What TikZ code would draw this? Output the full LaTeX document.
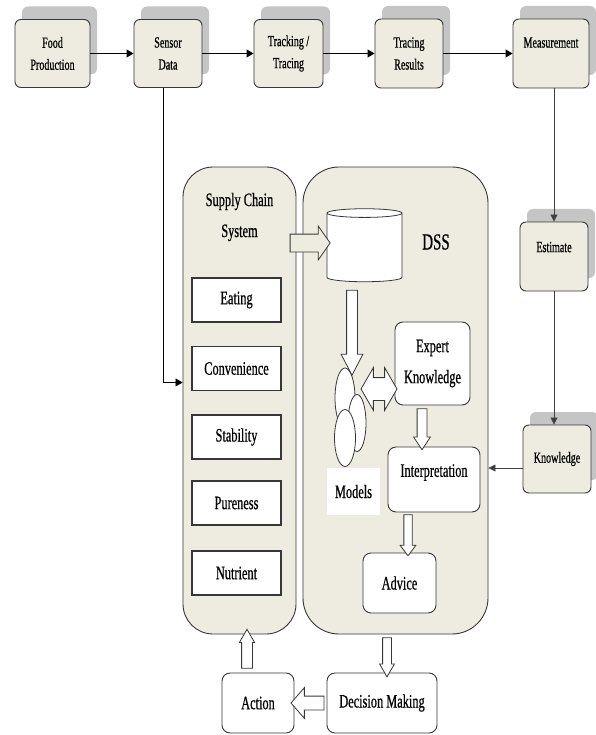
\documentclass[tikz,border=0pt]{standalone}
\usepackage{fontspec}
\setmainfont{Liberation Serif}[FakeStretch=0.65, FakeBold=0.6]
\usepackage{tikz}
\usetikzlibrary{calc,shapes.geometric,shapes.arrows,shadows,arrows.meta}
\definecolor{TanFill}{RGB}{238,236,225}
\definecolor{ShadeGray}{RGB}{197,197,197}
\definecolor{EdgeGray}{RGB}{55,55,55}
\newcommand\topsize{\fontsize{15.5}{22}\selectfont}
\newcommand\mainsize{\fontsize{19}{31}\selectfont}
\tikzset{
    flowbox/.style={rectangle, rounded corners=6pt, draw=EdgeGray, fill=TanFill, line width=0.9pt, align=center, inner sep=2pt, font=\topsize,
        drop shadow={shadow xshift=7pt, shadow yshift=13pt, fill=ShadeGray, opacity=1}},
    panel/.style={rectangle, rounded corners=30pt, draw=EdgeGray, fill=TanFill, line width=0.9pt},
    factor/.style={rectangle, draw=EdgeGray, fill=white, line width=1.1pt, minimum width=89pt, minimum height=44pt, font=\mainsize},
    dssbox/.style={rectangle, rounded corners=8pt, draw=EdgeGray, fill=white, line width=0.9pt, align=center, font=\mainsize},
    modelshape/.style={ellipse, draw=EdgeGray, fill=white, line width=0.8pt, inner sep=0pt},
    blockarrow/.style={single arrow, draw=EdgeGray, fill=white, line width=0.8pt}
}

\begin{document}
\begin{tikzpicture}[x=1pt, y=-1pt,
        thinline/.style={draw=black, line width=1.1pt, -{Triangle[length=7pt, width=8pt]}},
        greyline/.style={draw=black!75, line width=0.8pt, -{Triangle[length=7pt, width=7pt]}}
    ]
    \useasboundingbox (0,0) rectangle (595,735);

    % --- containers ---
    \node[panel, minimum width=113pt, minimum height=467pt] (scs) at (239.5,400.5) {};
    \node[panel, rounded corners=36pt, minimum width=185pt, minimum height=467pt] (dss) at (395.5,400.5) {};
    \node[font=\mainsize, align=center] (scstitle) at (239.5,217) {Supply Chain\\System};
    \node[font=\fontsize{23}{28}\selectfont] (dsstitle) at (436,242) {DSS};

    % --- top row ---
    \node[flowbox, minimum width=75pt, minimum height=68pt] (food) at (52.5,53.5) {Food\\Production};
    \node[flowbox, minimum width=68pt, minimum height=68pt] (sensor) at (168,53.5) {Sensor\\Data};
    \node[flowbox, minimum width=69pt, minimum height=68pt] (track) at (288.5,53.5) {Tracking /\\Tracing};
    \node[flowbox, minimum width=68pt, minimum height=69pt] (result) at (409,53.5) {Tracing\\Results};
    \node[flowbox, minimum width=76pt, minimum height=69pt, text depth=22pt] (meas) at (551,53.5) {Measurement};
    \node[flowbox, minimum width=68pt, minimum height=69pt, text depth=19pt] (est) at (554,256.5) {Estimate};
    \node[flowbox, minimum width=68pt, minimum height=68pt] (know) at (557,459) {Knowledge};

    \draw[thinline] (food) -- (sensor);
    \draw[thinline] (sensor) -- (track);
    \draw[thinline] (track) -- (result);
    \draw[thinline] (result) -- (meas);
    \draw[thinline, line width=0.8pt] ([xshift=-5pt]sensor.south) |- ([yshift=18pt]scs.west);
    \draw[greyline] (est.north |- meas.south) -- (est.north);
    \draw[greyline] (est.south) -- (est.south |- know.north);
    \coordinate (kin) at ([yshift=-9pt]know.west);
    \draw[greyline] (kin) -- (kin -| dss.east);

    % --- supply chain factors ---
    \node[factor] (eating) at (236.5,300) {Eating};
    \node[factor] (conv) at (236.5,368.5) {Convenience};
    \node[factor] (stab) at (236.5,437) {Stability};
    \node[factor] (pure) at (236.5,503) {Pureness};
    \node[factor] (nutr) at (236.5,573) {Nutrient};

    % --- DSS content ---
    \node[cylinder, shape border rotate=90, aspect=1.3, draw=EdgeGray, fill=white, line width=0.8pt,
          minimum height=73pt, minimum width=75pt] (db) at (364.5,248.5) {};
    \node[modelshape, minimum width=20pt, minimum height=60pt] (modA) at (345,398) {};
    \node[modelshape, minimum width=18pt, minimum height=57pt] (modB) at (357,423) {};
    \node[modelshape, minimum width=21pt, minimum height=57pt] (modC) at (345,438) {};
    \node[fill=white, minimum width=53pt, minimum height=47pt, font=\mainsize] (models) at (353.5,491.5) {Models};

    \node[dssbox, minimum width=75pt, minimum height=83pt] (expert) at (432.5,363.5) {Expert\\Knowledge};
    \node[dssbox, minimum width=92pt, minimum height=65pt, text depth=18pt] (interp) at (434,479.5) {Interpretation};
    \node[dssbox, minimum width=73pt, minimum height=60pt] (advice) at (399.5,583) {Advice};
    \node[dssbox, minimum width=110pt, minimum height=60pt] (decide) at (382,703) {Decision Making};
    \node[dssbox, minimum width=72pt, minimum height=60pt] (action) at (258,703) {Action};

    % --- block arrows ---
    \node[blockarrow, fill=TanFill, minimum height=40pt, inner sep=8.5pt, minimum width=33pt,
          single arrow head extend=8pt, single arrow tip angle=110] (feed) at (307,243) {};
    \node[blockarrow, shape border rotate=270, minimum height=85pt, inner sep=5pt, minimum width=21pt,
          single arrow head extend=5.5pt, single arrow tip angle=55] (dbdown) at (352,327.5) {};
    \node[double arrow, draw=EdgeGray, fill=white, line width=0.8pt, minimum height=32pt, inner sep=11pt, minimum width=42pt,
          double arrow head extend=10pt, double arrow tip angle=120] (link) at (379,389) {};
    \node[blockarrow, shape border rotate=270, minimum height=41pt, inner sep=4.5pt, minimum width=16pt,
          single arrow head extend=3.5pt, single arrow tip angle=67] (expdown) at (422,425.5) {};
    \node[blockarrow, shape border rotate=270, minimum height=41pt, inner sep=3.75pt, minimum width=15pt,
          single arrow head extend=3.75pt, single arrow tip angle=74] (intdown) at (408,532.5) {};
    \node[blockarrow, shape border rotate=270, minimum height=39pt, inner sep=4pt, minimum width=14pt,
          single arrow head extend=3pt, single arrow tip angle=60] (dssdown) at (387,653.5) {};
    \node[blockarrow, shape border rotate=180, minimum height=33pt, inner sep=6.5pt, minimum width=30pt,
          single arrow head extend=8.5pt, single arrow tip angle=98] (toaction) at (310.5,703) {};
    \node[blockarrow, shape border rotate=90, minimum height=39pt, inner sep=5pt, minimum width=14.5pt,
          single arrow head extend=2.25pt, single arrow tip angle=60] (toscs) at (247,653.5) {};
\end{tikzpicture}
\end{document}
